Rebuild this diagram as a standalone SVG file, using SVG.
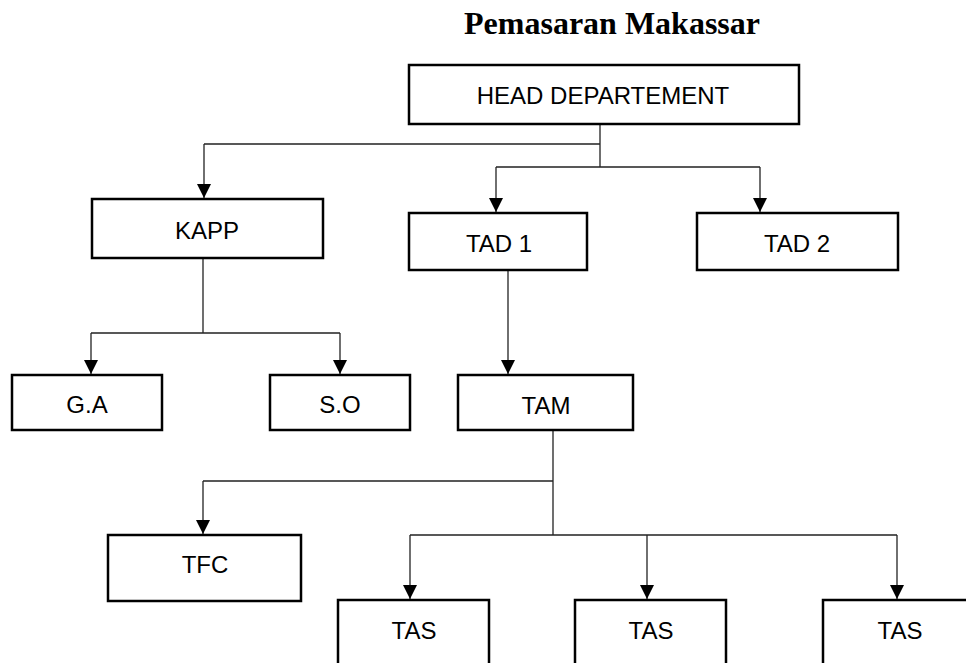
<svg xmlns="http://www.w3.org/2000/svg" width="966" height="663" viewBox="0 0 966 663">
<style>
.box{fill:#fff;stroke:#000;stroke-width:2.5}
.lbl{font-family:"Liberation Sans",Arial,sans-serif;font-size:24px;fill:#000;text-anchor:middle}
.title{font-family:"Liberation Serif","Times New Roman",serif;font-size:32px;font-weight:bold;fill:#000;text-anchor:middle}
.con{fill:none;stroke:#222;stroke-width:1.3}
.arr{marker-end:url(#ah)}
</style>
<defs>
<marker id="ah" markerUnits="userSpaceOnUse" markerWidth="14" markerHeight="14" viewBox="0 0 14 14" refX="14" refY="7" orient="auto">
<path d="M0,0 L14,7 L0,14 z" fill="#000"/>
</marker>
</defs>
<rect width="966" height="663" fill="#fff"/>
<text class="title" x="612" y="34">Pemasaran Makassar</text>
<g id="connectors">
<path class="con" d="M600,125 V167 M204,144 H600 M496,167 H760"/>
<path class="con arr" d="M204,144 V198"/>
<path class="con arr" d="M496,167 V212"/>
<path class="con arr" d="M760,167 V212"/>
<path class="con" d="M203,259 V333 M91,333 H340"/>
<path class="con arr" d="M91,333 V374"/>
<path class="con arr" d="M340,333 V374"/>
<path class="con arr" d="M508,271 V374"/>
<path class="con" d="M553,431 V535 M203,481 H553 M410,535 H897"/>
<path class="con arr" d="M203,481 V534"/>
<path class="con arr" d="M410,535 V599"/>
<path class="con arr" d="M647,535 V599"/>
<path class="con arr" d="M897,535 V599"/>
</g>
<g id="head"><rect class="box" x="409" y="65" width="390" height="59"/><text class="lbl" x="603" y="104">HEAD DEPARTEMENT</text></g>
<g id="kapp"><rect class="box" x="92" y="199" width="231" height="59"/><text class="lbl" x="207" y="239">KAPP</text></g>
<g id="tad1"><rect class="box" x="409" y="213" width="178" height="57"/><text class="lbl" x="499" y="252">TAD 1</text></g>
<g id="tad2"><rect class="box" x="697" y="213" width="201" height="57"/><text class="lbl" x="797" y="252">TAD 2</text></g>
<g id="ga"><rect class="box" x="12" y="375" width="150" height="55"/><text class="lbl" x="87" y="413">G.A</text></g>
<g id="so"><rect class="box" x="270" y="375" width="140" height="55"/><text class="lbl" x="340" y="413">S.O</text></g>
<g id="tam"><rect class="box" x="458" y="375" width="175" height="55"/><text class="lbl" x="546" y="414">TAM</text></g>
<g id="tfc"><rect class="box" x="108" y="535" width="193" height="66"/><text class="lbl" x="205" y="573">TFC</text></g>
<g id="tas1"><rect class="box" x="338" y="600" width="151" height="80"/><text class="lbl" x="414" y="639">TAS</text></g>
<g id="tas2"><rect class="box" x="575" y="600" width="151" height="80"/><text class="lbl" x="651" y="639">TAS</text></g>
<g id="tas3"><rect class="box" x="823" y="600" width="160" height="80"/><text class="lbl" x="900" y="639">TAS</text></g>
</svg>
